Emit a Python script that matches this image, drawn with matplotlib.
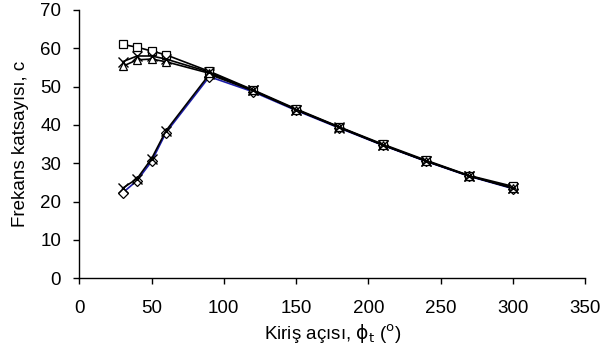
import matplotlib
matplotlib.use("Agg")
import matplotlib.pyplot as plt

angles = [30, 40, 50, 60, 90, 120, 150, 180, 210, 240, 270, 300]
sq_vals = [61.0, 60.3, 59.3, 58.3, 54.0, 49.2, 44.2, 39.5, 35.0, 30.8, 26.8, 24.0]
tri_vals = [55.3, 57.0, 57.2, 56.5, 53.5, 49.0, 44.0, 39.4, 34.8, 30.6, 26.7, 23.6]
xup_vals = [56.5, 58.0, 58.0, 57.2, 53.8, 49.0, 44.0, 39.4, 34.8, 30.6, 26.7, 23.5]
dia_vals = [22.3, 25.5, 30.5, 38.0, 52.6, 48.7, 43.8, 39.2, 34.7, 30.5, 26.6, 23.4]
xlo_vals = [23.5, 26.0, 31.2, 38.5, 53.2, 49.0, 44.0, 39.3, 34.8, 30.6, 26.7, 23.6]

xticks = [0, 50, 100, 150, 200, 250, 300, 350]
yticks = [0, 10, 20, 30, 40, 50, 60, 70]

plt.rcParams['font.family'] = ['Liberation Sans', 'DejaVu Sans']

W, H = 603, 356
fig = plt.figure(figsize=(W/100, H/100), dpi=100)
ax = fig.add_axes([79.3/W, 1-278.3/H, (585-79.3)/W, (278.3-10)/H])

lw = 1.2
ax.plot(angles, dia_vals, color='#1c1ca8', lw=lw, marker='D', ms=5, mfc='white', mec='black', mew=0.9)
ax.plot(angles, xlo_vals, color='black', lw=lw, marker='x', ms=6.5, mec='black', mew=1.0)
ax.plot(angles, sq_vals, color='black', lw=lw, marker='s', ms=5.5, mfc='white', mec='black', mew=0.9)
ax.plot(angles, tri_vals, color='black', lw=lw, marker='^', ms=6, mfc='white', mec='black', mew=0.9)
ax.plot(angles, xup_vals, color='black', lw=lw, marker='x', ms=6.5, mec='black', mew=1.0)

ax.set_xlim(0, 350)
ax.set_ylim(0, 70)
ax.set_xticks(xticks)
ax.set_yticks(yticks)
ax.tick_params(direction='out', length=4.5, width=1, labelsize=13.5)
ax.tick_params(axis='x', pad=11)
ax.tick_params(axis='y', pad=8.5)
for s in ['top', 'right']:
    ax.spines[s].set_visible(False)
for s in ['left', 'bottom']:
    ax.spines[s].set_linewidth(1)
ax.set_xlabel(r'Kiriş açısı, $\mathrm{\phi}_\mathrm{t}$ ($^\mathrm{o}$)', fontsize=13.5, labelpad=4)
ax.set_ylabel('Frekans katsayısı, c', fontsize=13.5, labelpad=8)

fig.savefig('out.png', dpi=100)
